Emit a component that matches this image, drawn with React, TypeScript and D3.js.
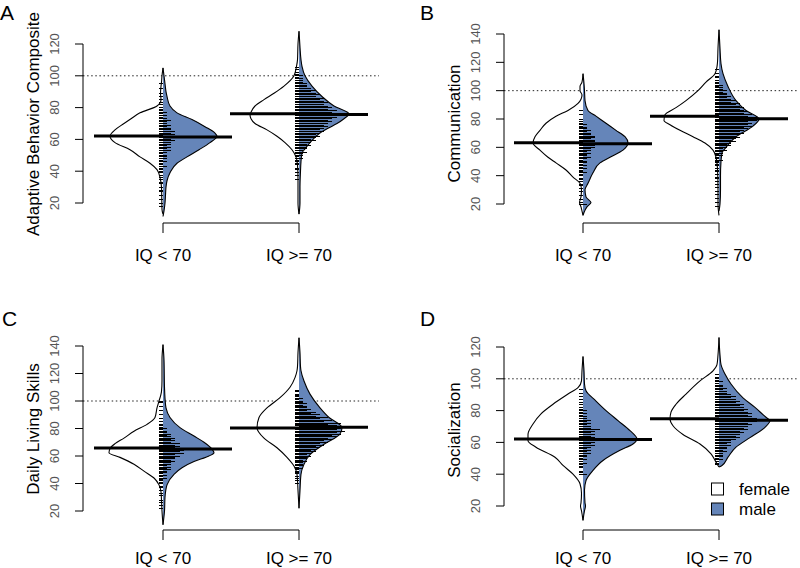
import React from 'react';
import * as d3 from 'd3';

type Pair = [number, number];

// ---------- categories / labels ----------
const groups = ['IQ < 70', 'IQ >= 70'];
const sexes = ['female', 'male'];
const panelLetters = ['A', 'B', 'C', 'D'];
const panelTitles = ['Adaptive Behavior Composite', 'Communication', 'Daily Living Skills', 'Socialization'];
const ticksA = [20, 40, 60, 80, 100, 120];
const ticksB = [20, 40, 60, 80, 100, 120, 140];
const ticksC = [20, 40, 60, 80, 100, 120, 140];
const ticksD = [20, 40, 60, 80, 100, 120];
const referenceScore = 100;

// ---------- bean densities: [score, density] ----------
const a1Female: Pair[] = [[105,0],[100,1],[96,1.5],[93.5,2],[89,2.5],[85,2],[81,6],[76.7,23],[73,32],[70,39],[66,48],[62,53],[58,48],[53.5,33],[49,23],[45,13],[41,6],[36,3],[30,1.5],[22,1.2],[16,1],[13,0]];
const a1Male: Pair[] = [[105,0],[100,1],[95,2],[90,3],[87,4],[81,7],[76.7,14],[72.5,29],[68,42],[64,52],[62,54],[58,47],[53.5,36],[49,24],[45,14],[39,7],[34,4],[30,3],[25,2.5],[20,2],[15,1],[11.5,0]];
const a2Female: Pair[] = [[128,0],[120,1],[110,1.5],[106,2.5],[100,5],[93.5,15],[89,25],[85,35],[81,44],[77,48],[75.6,49],[73,48],[70,44],[66,32],[62,22],[58,14],[53.5,7],[49,3],[44,1.5],[35,1],[20,1],[13,0]];
const a2Male: Pair[] = [[128,0],[118,1],[110,2],[106,3],[100,6],[93.5,13],[87,23],[81,35],[76,50],[73,45],[70,38],[67,29],[64,21],[58,11],[54,6],[51.4,3],[46,2],[40,1.5],[30,1],[20,1],[13,0]];

const b1Female: Pair[] = [[112,0],[106,1],[103,3],[100,3],[97,1],[94,2],[91,5],[86,15],[82,27],[77,37],[72,43],[67.5,48],[63,50],[58,43],[53,35],[49,27],[44,17],[39,10],[34.6,3],[30,1.5],[25,2],[21,3.5],[18,2],[15,1],[12,0]];
const b1Male: Pair[] = [[112,0],[105,1],[100,1.5],[93,2],[86,5],[82,13],[77,23],[72,33],[67.5,42],[63,45],[58,40],[53,27],[49,17],[42,10],[34.6,5],[30,2],[25,3],[21,8],[18,4],[14,1],[12,0]];
const b2Female: Pair[] = [[143,0],[130,1],[120,1.5],[117,2],[112,4],[106,13],[100,21],[93,33],[88,43],[83,54],[79,55],[76,49],[72,39],[67.5,26],[63,14],[58,6],[53,3],[45,1.5],[30,1],[20,1],[12,0]];
const b2Male: Pair[] = [[143,0],[130,1],[119,2],[112,4],[103,9],[93,17],[86,27],[80,40],[75,34],[67.5,17],[60,7],[56,3],[50,2],[40,1.5],[30,1.5],[20,1],[15,0]];

const c1Female: Pair[] = [[141,0],[130,1],[115,1],[107,1.5],[105,2],[100,4],[95,6],[88,8],[83,16],[78,29],[73,39],[69,48],[65.5,53],[62.4,54],[59,43],[54,29],[49,19],[44,9],[39,4],[34,2],[28,1.5],[20,1],[10,0]];
const c1Male: Pair[] = [[141,0],[130,1],[110,1.5],[102,2],[95,3],[88,7],[80.6,17],[74.5,31],[70,41],[65,49],[62.4,51],[60,46],[56,31],[51.5,19],[46.7,11],[39,4],[30,2],[20,1.5],[10,0]];
const c2Female: Pair[] = [[146,0],[135,1],[125,1.5],[122,2],[117,4],[110,9],[102.4,19],[95,32],[88,40],[80.6,42],[73,35],[66,22],[59,12],[52.7,5],[46.7,2],[35,1],[22,0]];
const c2Male: Pair[] = [[146,0],[135,1],[125,1.5],[122,2],[114.5,5],[105,11],[95,21],[88,30],[80.6,43],[76,41],[68.5,25],[61,11],[54,5],[46.7,2],[35,1],[22,0]];

const d1Female: Pair[] = [[114,0],[105,1],[98.7,1.5],[94.5,5],[90.4,15],[84,30],[78,42],[71.6,50],[65,55],[61,55],[57,47],[50.7,28],[45.5,20],[40,10],[34,3],[28,1.5],[22,2],[20,2.5],[17,1.5],[11,0]];
const d1Male: Pair[] = [[114,0],[105,1],[96.7,1.5],[92.5,3],[86,13],[80,23],[73.7,35],[67.4,47],[62,54],[59,50],[55,37],[48.6,20],[42.4,10],[36,3],[30,1.5],[22,2],[20,2.5],[17,1.5],[11,0]];
const d2Female: Pair[] = [[126,0],[115,1],[109,2],[105,6],[98.7,19],[90.4,33],[84,43],[79,48],[74.7,49],[70.5,46],[65,36],[59,19],[52.8,8],[47.6,3],[44.5,0]];
const d2Male: Pair[] = [[126,0],[115,1],[109,2],[103,6],[96.7,12],[88,24],[82,36],[75.8,47],[73.7,51],[69.5,46],[63,31],[57,17],[50.7,9],[45.5,3],[44.5,0]];

// ---------- bean averages ----------
const femaleMeansA = [62.1, 76.1];
const maleMeansA = [61.5, 75.6];
const femaleMeansB = [63.3, 81.9];
const maleMeansB = [62.6, 80.2];
const femaleMeansC = [65.8, 80.4];
const maleMeansC = [65.1, 80.9];
const femaleMeansD = [62.2, 74.9];
const maleMeansD = [61.8, 73.9];

// ---------- beanlines (male): number of children at each score ----------
const a1MaleStart = 18;
const a1MaleCounts = [1,0, 1,0,1,0,0,1,0,1,1,0, 1,0,1,1,0,1,1,1,0,1, 1,1,1,2,1,1,2,1,2,2, 2,1,2,3,2,3,2,3,3,4, 3,4,5,4,3,4,3,3,2,3, 2,2,3,2,1,2,1,2,1,1, 1,0,1,1,0,1,0,1,0,1, 0,0,1,0,0,1];
const a2MaleStart = 35;
const a2MaleCounts = [1,0,1,0,1, 0,1,1,0,1,1,1,1,2,1, 2,2,3,2,3,3,4,3,4,5, 4,5,6,5,6,7,6,7,8,7, 8,9,8,9,10,9,10,9,10,8, 9,8,7,8,7,6,7,5,6,5, 4,5,4,3,3,3,2,2,2,1, 2,1,1,0,1,1];
const b1MaleStart = 20;
const b1MaleCounts = [2,1,0,1,0,0,1,0,0,1, 0,1,0,1,1,0,1,1,1,0, 1,1,2,1,1,2,1,2,1,2, 2,1,2,3,2,2,3,2,3,3, 4,4,5,5,4,4,3,4,4,3, 3,2,3,2,2,1,2,1,1,0, 1,0,0,1,0,0,1];
const b2MaleStart = 18;
const b2MaleCounts = [1,0, 0,1,0,0,1,0,0,1,0,1, 0,0,1,0,1,0,1,0,1,1, 0,1,0,1,1,1,0,1,1,1, 1,2,1,1,2,1,2,2,3,2, 3,4,3,4,5,4,5,6,5,6, 7,6,7,8,7,9,8,9,8,10, 9,10,8,9,7,8,7,6,7,6, 5,6,4,5,4,3,4,3,3,2, 3,2,2,1,2,1,1,1,0,1, 1,0,1,0,0,1];
const c1MaleStart = 20;
const c1MaleCounts = [0,0,1,0,1,0,1,0,1,0, 0,1,0,1,0,1,0,1,1,0, 1,1,1,1,2,1,2,1,2,2, 3,2,3,2,3,3,4,3,4,4, 5,4,6,5,6,5,4,5,4,5, 3,4,3,4,3,2,3,2,2,1, 2,1,1,1,0,1,0,1,0,0, 1,0,0,1,0,0,1,0,0,1,1];
const c2MaleStart = 40;
const c2MaleCounts = [1,0,1,0,1,1,0,1,1,1, 1,2,1,2,2,2,3,2,3,3, 4,3,4,5,4,5,6,5,7,6, 8,7,9,8,10,9,11,10,12,10, 11,9,10,8,11,7,9,6,8,5, 6,4,5,3,4,3,3,2,3,2, 2,1,2,1,1,1,0,1,1];
const d1MaleStart = 40;
const d1MaleCounts = [2,1,1,0,1,1,1,2,1,2, 1,2,2,3,2,3,2,3,4,3, 4,3,5,4,3,4,3,4,5,3, 3,2,3,2,3,2,2,1,2,1, 2,1,1,0,1,1,0,1,0,1, 0,1,0,1];
const d2MaleStart = 46;
const d2MaleCounts = [1,1,1,2, 1,2,2,2,3,2,3,3,4,3, 4,4,5,6,5,6,7,6,8,7, 8,9,8,10,9,10,9,8,9,8, 7,8,7,6,7,5,6,5,4,5, 4,3,3,2,3,2,2,1,2,1, 1,1,0,1];

// ---------- assembled panel table ----------
const panelData = [
  { ticks: ticksA, female: [a1Female, a2Female], male: [a1Male, a2Male], fMeans: femaleMeansA, mMeans: maleMeansA,
    lines: [{ start: a1MaleStart, counts: a1MaleCounts }, { start: a2MaleStart, counts: a2MaleCounts }] },
  { ticks: ticksB, female: [b1Female, b2Female], male: [b1Male, b2Male], fMeans: femaleMeansB, mMeans: maleMeansB,
    lines: [{ start: b1MaleStart, counts: b1MaleCounts }, { start: b2MaleStart, counts: b2MaleCounts }] },
  { ticks: ticksC, female: [c1Female, c2Female], male: [c1Male, c2Male], fMeans: femaleMeansC, mMeans: maleMeansC,
    lines: [{ start: c1MaleStart, counts: c1MaleCounts }, { start: c2MaleStart, counts: c2MaleCounts }] },
  { ticks: ticksD, female: [d1Female, d2Female], male: [d1Male, d2Male], fMeans: femaleMeansD, mMeans: maleMeansD,
    lines: [{ start: d1MaleStart, counts: d1MaleCounts }, { start: d2MaleStart, counts: d2MaleCounts }] },
];

// ---------- layout ----------
const layouts = [
  { axisX: 83, c: [163, 299], yLow: 203, yHigh: 44, bracketY: 223, labelDy: 38, right: 379, letterX: 0, letterY: 20, titleY: 124 },
  { axisX: 504, c: [583, 719], yLow: 204, yHigh: 34, bracketY: 223, labelDy: 38, right: 798, letterX: 420, letterY: 20, titleY: 123.5 },
  { axisX: 83, c: [163, 299], yLow: 511, yHigh: 346, bracketY: 530, labelDy: 34, right: 379, letterX: 2, letterY: 326, titleY: 429 },
  { axisX: 504, c: [583, 719], yLow: 506, yHigh: 347, bracketY: 530, labelDy: 34, right: 798, letterX: 420, letterY: 326, titleY: 430 },
];

const FONT = '"Liberation Sans", Arial, Helvetica, sans-serif';
const BLUE = '#6585b9';
const sexFill = d3.scaleOrdinal<string, string>().domain(sexes).range(['#ffffff', BLUE]);
const LINE_PER_CHILD = 4.2;
const LINE_OFFSET = 4.5;
const MEAN_HALF = 69;

function Panel({ idx }: { idx: number }) {
  const p = panelData[idx];
  const L = layouts[idx];
  const y = d3.scaleLinear().domain([p.ticks[0], p.ticks[p.ticks.length - 1]]).range([L.yLow, L.yHigh]);
  const x = d3.scalePoint<string>().domain(groups).range([L.c[0], L.c[1]]);
  const w = d3.scaleLinear().domain([0, 55]).range([0, 55]);

  const half = (cx: number, dir: number) => {
    const area = d3.area<Pair>().y(d => y(d[0])).x0(cx).x1(d => cx + dir * w(d[1])).curve(d3.curveMonotoneY);
    const line = d3.line<Pair>().y(d => y(d[0])).x(d => cx + dir * w(d[1])).curve(d3.curveMonotoneY);
    return { area, line };
  };

  return (
    <g>
      <text x={L.letterX} y={L.letterY} fontSize={21} fontFamily={FONT} fill="#000">{panelLetters[idx]}</text>
      <text transform={`translate(${L.axisX - 44},${L.titleY}) rotate(-90)`} textAnchor="middle" fontSize={17} fontFamily={FONT} fill="#000">{panelTitles[idx]}</text>
      {/* reference line */}
      <line x1={L.axisX} x2={L.right} y1={y(referenceScore)} y2={y(referenceScore)} stroke="#222" strokeWidth={1} strokeDasharray="1.5,2.6" />
      {groups.map((g, gi) => {
        const cx = x(g)!;
        const f = half(cx, -1);
        const m = half(cx, 1);
        const fd = p.female[gi];
        const md = p.male[gi];
        const ln = p.lines[gi];
        return (
          <g key={g}>
            <path d={f.area(fd)!} fill={sexFill('female')} stroke="none" />
            <path d={m.area(md)!} fill={sexFill('male')} stroke="none" />
            <path d={f.line(fd)!} fill="none" stroke="#000" strokeWidth={1.1} />
            <path d={m.line(md)!} fill="none" stroke="#000" strokeWidth={1.1} />
            <g shapeRendering="crispEdges">
              {ln.counts.map((c, i) => c > 0 ? (
                <line key={i} x1={cx - LINE_OFFSET} x2={cx - LINE_OFFSET + c * LINE_PER_CHILD}
                  y1={y(ln.start + i)} y2={y(ln.start + i)} stroke="#000" strokeWidth={1} />
              ) : null)}
            </g>
            <line x1={cx - MEAN_HALF} x2={cx} y1={y(p.fMeans[gi])} y2={y(p.fMeans[gi])} stroke="#000" strokeWidth={3} />
            <line x1={cx} x2={cx + MEAN_HALF} y1={y(p.mMeans[gi])} y2={y(p.mMeans[gi])} stroke="#000" strokeWidth={3} />
          </g>
        );
      })}
      {/* y axis */}
      <line x1={L.axisX} x2={L.axisX} y1={y(p.ticks[0])} y2={y(p.ticks[p.ticks.length - 1])} stroke="#000" strokeWidth={1} />
      {p.ticks.map(t => (
        <g key={t}>
          <line x1={L.axisX - 8} x2={L.axisX} y1={y(t)} y2={y(t)} stroke="#000" strokeWidth={1} />
          <text transform={`translate(${L.axisX - 24},${y(t)}) rotate(-90)`} textAnchor="middle" fontSize={13} fontFamily={FONT} fill="#555">{t}</text>
        </g>
      ))}
      {/* x axis bracket */}
      <line x1={x(groups[0])!} x2={x(groups[1])!} y1={L.bracketY} y2={L.bracketY} stroke="#000" strokeWidth={1} />
      {groups.map(g => (
        <g key={g}>
          <line x1={x(g)!} x2={x(g)!} y1={L.bracketY} y2={L.bracketY + 10} stroke="#000" strokeWidth={1} />
          <text x={x(g)!} y={L.bracketY + L.labelDy} textAnchor="middle" fontSize={17} fontFamily={FONT} fill="#000">{g}</text>
        </g>
      ))}
    </g>
  );
}

function Legend() {
  const ly = d3.scalePoint<string>().domain(sexes).range([495, 515]);
  return (
    <g>
      {sexes.map(s => (
        <g key={s}>
          <rect x={711.5} y={ly(s)! - 12} width={12} height={12} fill={sexFill(s)} stroke="#000" strokeWidth={1} />
          <text x={739} y={ly(s)!} fontSize={17} fontFamily={FONT} fill="#000">{s}</text>
        </g>
      ))}
    </g>
  );
}

export default function App() {
  return (
    <svg width={800} height={568} viewBox="0 0 800 568" style={{ position: 'absolute', left: 0, top: 0, background: '#fff' }}>
      <rect width={800} height={568} fill="#fff" />
      {panelData.map((_, i) => <Panel key={i} idx={i} />)}
      <Legend />
    </svg>
  );
}
